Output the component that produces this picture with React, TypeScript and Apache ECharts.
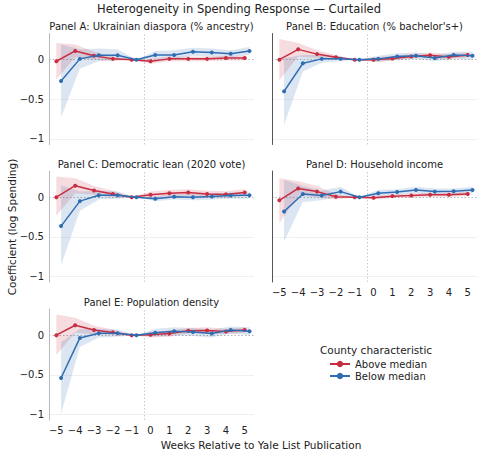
import React, { useEffect, useRef } from 'react';
import * as echarts from 'echarts';

const WEEKS = [-5, -4, -3, -2, -1, 0, 1, 2, 3, 4, 5];
const X_TICKS = [-5, -4, -3, -2, -1, 0, 1, 2, 3, 4, 5];
const Y_TICKS = [-1, -0.5, 0];
const PANEL_TITLES = [
  'Panel A: Ukrainian diaspora (% ancestry)',
  "Panel B: Education (% bachelor's+)",
  'Panel C: Democratic lean (2020 vote)',
  'Panel D: Household income',
  'Panel E: Population density',
];

// Panel A
const aAbove = [-0.02, 0.11, 0.05, 0.01, 0, -0.02, 0.01, 0.01, 0.01, 0.02, 0.02];
const aAboveLo = [-0.25, 0.03, 0.0, -0.02, 0, -0.05, -0.02, -0.02, -0.02, -0.01, -0.01];
const aAboveHi = [0.21, 0.19, 0.1, 0.04, 0, 0.01, 0.04, 0.04, 0.04, 0.05, 0.05];
const aBelow = [-0.27, 0.01, 0.055, 0.055, 0, 0.06, 0.06, 0.1, 0.09, 0.075, 0.11];
const aBelowLo = [-0.73, -0.11, -0.02, 0.0, 0, 0.01, 0.01, 0.05, 0.04, 0.03, 0.06];
const aBelowHi = [0.19, 0.13, 0.14, 0.13, 0, 0.11, 0.12, 0.15, 0.14, 0.12, 0.16];
// Panel B
const bAbove = [0.0, 0.13, 0.07, 0.03, 0, 0.0, 0.015, 0.04, 0.055, 0.035, 0.06];
const bAboveLo = [-0.26, 0.04, 0.02, 0.0, 0, -0.03, -0.015, 0.01, 0.02, 0.0, 0.03];
const bAboveHi = [0.26, 0.21, 0.12, 0.06, 0, 0.03, 0.045, 0.07, 0.09, 0.07, 0.09];
const bBelow = [-0.4, -0.045, 0.01, 0.01, 0, 0.01, 0.04, 0.05, 0.02, 0.06, 0.05];
const bBelowLo = [-0.82, -0.15, -0.04, -0.02, 0, -0.03, 0.0, 0.01, -0.02, 0.02, 0.0];
const bBelowHi = [0.02, 0.06, 0.06, 0.04, 0, 0.05, 0.08, 0.09, 0.06, 0.1, 0.1];
// Panel C
const cAbove = [0.0, 0.145, 0.085, 0.04, 0, 0.03, 0.05, 0.06, 0.04, 0.035, 0.06];
const cAboveLo = [-0.23, 0.05, 0.03, 0.0, 0, -0.01, 0.01, 0.02, 0.0, -0.005, 0.02];
const cAboveHi = [0.26, 0.24, 0.14, 0.08, 0, 0.07, 0.09, 0.1, 0.08, 0.075, 0.1];
const cBelow = [-0.365, -0.05, 0.025, 0.025, 0, -0.02, 0.005, 0.0, 0.008, 0.02, 0.025];
const cBelowLo = [-0.86, -0.17, -0.03, -0.02, 0, -0.05, -0.03, -0.04, -0.03, -0.02, -0.02];
const cBelowHi = [0.15, 0.07, 0.08, 0.07, 0, 0.01, 0.04, 0.04, 0.045, 0.06, 0.07];
// Panel D
const dAbove = [-0.04, 0.11, 0.07, 0.005, 0, -0.008, 0.013, 0.02, 0.03, 0.03, 0.04];
const dAboveLo = [-0.33, 0.02, 0.0, -0.03, 0, -0.03, -0.01, -0.005, 0.005, 0.005, 0.015];
const dAboveHi = [0.24, 0.2, 0.14, 0.04, 0, 0.015, 0.035, 0.045, 0.055, 0.055, 0.065];
const dBelow = [-0.18, 0.04, 0.02, 0.07, 0, 0.05, 0.065, 0.09, 0.07, 0.075, 0.09];
const dBelowLo = [-0.56, -0.06, -0.04, 0.01, 0, 0.01, 0.03, 0.05, 0.03, 0.04, 0.05];
const dBelowHi = [0.22, 0.14, 0.08, 0.13, 0, 0.09, 0.1, 0.13, 0.11, 0.11, 0.13];
// Panel E
const eAbove = [0.0, 0.125, 0.065, 0.035, 0, 0.005, 0.02, 0.055, 0.06, 0.045, 0.065];
const eAboveLo = [-0.25, 0.03, 0.01, 0.0, 0, -0.03, -0.02, 0.02, 0.02, 0.01, 0.03];
const eAboveHi = [0.26, 0.22, 0.12, 0.07, 0, 0.04, 0.06, 0.09, 0.1, 0.08, 0.1];
const eBelow = [-0.54, -0.035, 0.025, 0.025, 0, 0.03, 0.05, 0.04, 0.02, 0.065, 0.05];
const eBelowLo = [-0.99, -0.15, -0.03, -0.02, 0, -0.02, 0.0, -0.01, -0.03, 0.02, 0.0];
const eBelowHi = [-0.09, 0.08, 0.08, 0.07, 0, 0.08, 0.1, 0.09, 0.07, 0.11, 0.1];

const PANELS = [
  { above: aAbove, aLo: aAboveLo, aHi: aAboveHi, below: aBelow, bLo: aBelowLo, bHi: aBelowHi },
  { above: bAbove, aLo: bAboveLo, aHi: bAboveHi, below: bBelow, bLo: bBelowLo, bHi: bBelowHi },
  { above: cAbove, aLo: cAboveLo, aHi: cAboveHi, below: cBelow, bLo: cBelowLo, bHi: cBelowHi },
  { above: dAbove, aLo: dAboveLo, aHi: dAboveHi, below: dBelow, bLo: dBelowLo, bHi: dBelowHi },
  { above: eAbove, aLo: eAboveLo, aHi: eAboveHi, below: eBelow, bLo: eBelowLo, bHi: eBelowHi },
];

const RED = '#c72c41';
const BLUE = '#2f6db3';
const FONT = 'DejaVu Sans';
const BLUE_SHIFT = 0.25;
const EVENT_X = -0.35;

const LAYOUT = [
  { left: 49, top: 33.5 },
  { left: 272, top: 33.5 },
  { left: 49, top: 171 },
  { left: 272, top: 171 },
  { left: 49, top: 309 },
];
const GW = 205;
const GH = 111;
const XMIN = -5.39;
const XMAX = 5.49;
const YMIN = -1.07;
const YMAX = 0.33;

const fmt = (v: number) => {
  const s = Number.isInteger(v) ? String(v) : v.toFixed(1);
  return s.replace('-', '\u2212');
};

function bandSeries(i: number, xs: number[], lo: number[], hi: number[], color: string) {
  return {
    type: 'custom',
    xAxisIndex: i,
    yAxisIndex: i,
    silent: true,
    z: 1,
    data: xs.map((x, j) => [x, lo[j], hi[j]]),
    encode: { x: 0, y: [1, 2] },
    renderItem: (params: any, api: any) => {
      if (params.dataIndex !== 0) return null;
      const top = xs.map((x, j) => api.coord([x, hi[j]]));
      const bot = xs.map((x, j) => api.coord([x, lo[j]])).reverse();
      return {
        type: 'polygon',
        shape: { points: top.concat(bot) },
        style: { fill: color, opacity: 0.17 },
        silent: true,
      };
    },
  };
}

export default function App() {
  const ref = useRef<HTMLDivElement>(null);
  useEffect(() => {
    const chart = echarts.init(ref.current!, null, { renderer: 'svg' });
    const grids: any[] = [];
    const xAxes: any[] = [];
    const yAxes: any[] = [];
    const series: any[] = [];
    const titles: any[] = [
      {
        text: 'Heterogeneity in Spending Response \u2014 Curtailed',
        left: 239,
        top: 3,
        textAlign: 'center',
        padding: 0,
        textStyle: { fontFamily: FONT, fontSize: 11.5, fontWeight: 'normal', color: '#222' },
      },
    ];
    PANELS.forEach((p, i) => {
      const L = LAYOUT[i];
      const isLeft = i % 2 === 0;
      const showX = i >= 3;
      grids.push({ left: L.left, top: L.top, width: GW, height: GH });
      titles.push({
        text: PANEL_TITLES[i],
        left: L.left + GW / 2,
        top: L.top - 12,
        textAlign: 'center',
        padding: 0,
        textStyle: { fontFamily: FONT, fontSize: 10, fontWeight: 'normal', color: '#222' },
      });
      xAxes.push({
        gridIndex: i,
        type: 'value',
        min: XMIN,
        max: XMAX,
        axisLine: { show: false, onZero: false },
        axisTick: { show: false },
        splitLine: { show: false },
        axisLabel: {
          show: showX,
          customValues: X_TICKS,
          formatter: fmt,
          fontFamily: FONT,
          fontSize: 10,
          color: '#222',
          margin: 5,
        },
      });
      yAxes.push({
        gridIndex: i,
        type: 'value',
        min: YMIN,
        max: YMAX,
        axisLine: { show: true, onZero: false, lineStyle: { color: isLeft ? '#b8b8b8' : '#555', width: 1 } },
        axisTick: { show: false },
        splitLine: { show: false },
        axisLabel: {
          show: isLeft,
          customValues: Y_TICKS,
          formatter: fmt,
          fontFamily: FONT,
          fontSize: 10,
          color: '#222',
          margin: 5,
        },
      });
      const redX = WEEKS.map((w) => w);
      const blueX = WEEKS.map((w) => w + BLUE_SHIFT);
      series.push(bandSeries(i, redX, p.aLo, p.aHi, RED));
      series.push(bandSeries(i, blueX, p.bLo, p.bHi, BLUE));
      series.push({
        name: 'Above median',
        type: 'line',
        xAxisIndex: i,
        yAxisIndex: i,
        z: 3,
        data: WEEKS.map((w, j) => [redX[j], p.above[j]]),
        symbol: 'circle',
        symbolSize: 4,
        itemStyle: { color: RED },
        lineStyle: { color: RED, width: 1.5 },
        markLine: {
          silent: true,
          symbol: ['none', 'none'],
          label: { show: false },
          z: 0,
          data: [
            { yAxis: -0.5, lineStyle: { color: '#f0f0f0', type: 'solid', width: 1 } },
            { yAxis: -1, lineStyle: { color: '#f0f0f0', type: 'solid', width: 1 } },
            { yAxis: 0, lineStyle: { color: '#aaaaaa', type: [1.5, 2], width: 0.9 } },
            { xAxis: EVENT_X, lineStyle: { color: '#c4c4c4', type: [1.5, 2], width: 0.9 } },
          ],
        },
      });
      series.push({
        name: 'Below median',
        type: 'line',
        xAxisIndex: i,
        yAxisIndex: i,
        z: 4,
        data: WEEKS.map((w, j) => [blueX[j], p.below[j]]),
        symbol: 'circle',
        symbolSize: 4,
        itemStyle: { color: BLUE },
        lineStyle: { color: BLUE, width: 1.5 },
      });
    });

    chart.setOption({
      animation: false,
      backgroundColor: '#ffffff',
      title: titles,
      grid: grids,
      xAxis: xAxes,
      yAxis: yAxes,
      series,
      legend: {
        data: ['Above median', 'Below median'],
        orient: 'vertical',
        left: 329,
        top: 359,
        itemWidth: 20,
        itemHeight: 8,
        itemGap: 2,
        padding: 0,
        textStyle: { fontFamily: FONT, fontSize: 10, color: '#222' },
      },
      graphic: [
        {
          type: 'text',
          x: 376,
          y: 350,
          style: {
            text: 'County characteristic',
            font: `10.5px "${FONT}"`,
            fill: '#222',
            align: 'center',
            verticalAlign: 'middle',
          },
        },
        {
          type: 'text',
          x: 12,
          y: 227,
          rotation: Math.PI / 2,
          style: {
            text: 'Coefficient (log Spending)',
            font: `10.5px "${FONT}"`,
            fill: '#222',
            align: 'center',
            verticalAlign: 'middle',
          },
        },
        {
          type: 'text',
          x: 261,
          y: 445,
          style: {
            text: 'Weeks Relative to Yale List Publication',
            font: `10.5px "${FONT}"`,
            fill: '#222',
            align: 'center',
            verticalAlign: 'middle',
          },
        },
      ],
    });
    return () => chart.dispose();
  }, []);
  return (
    <div
      ref={ref}
      style={{ position: 'absolute', left: 0, top: 0, width: 478, height: 451 }}
    />
  );
}
